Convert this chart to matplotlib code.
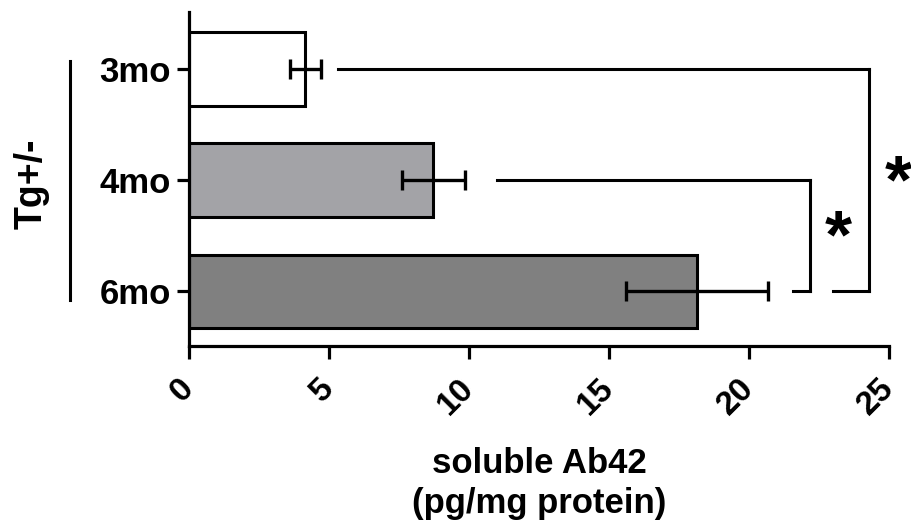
import matplotlib
matplotlib.use('Agg')
import matplotlib.pyplot as plt
from matplotlib.lines import Line2D
import numpy as np

plt.rcParams['font.family'] = ['Liberation Sans', 'DejaVu Sans']
plt.rcParams['font.weight'] = 'bold'

# data
groups = ['3mo', '4mo', '6mo']
means = [4.15, 8.72, 18.13]
sems = [0.55, 1.13, 2.54]
bar_colors = ['#FFFFFF', '#A3A3A7', '#808080']
xticks = [0, 5, 10, 15, 20, 25]

# significance brackets: (row a, row b, x of line start, x of vertical, x of short end)
brackets = [
    (0, 2, 5.32, 24.3, 23.0),
    (1, 2, 11.0, 22.18, 21.56),
]
stars = [('*', 25.33, 1.04), ('*', 23.2, 1.53)]

fig = plt.figure(figsize=(9.11, 5.28), dpi=100)
fig.patch.set_facecolor('white')
ax = fig.add_axes([189/911, 1 - 346/528, 700/911, 334/528])

ypos = np.arange(len(groups))
ax.barh(ypos, means, height=0.66, color=bar_colors, edgecolor='black',
        linewidth=2.2, zorder=2)
ax.errorbar(means, ypos, xerr=sems, fmt='none', ecolor='black',
            elinewidth=2.4, capsize=7, capthick=2.4, zorder=3)

# brackets
lw = 2.2
for ra, rb, x0, xv, x1 in brackets:
    ax.plot([x0, xv], [ra, ra], color='black', lw=lw, clip_on=False, zorder=3)
    ax.plot([xv, xv], [ra, rb], color='black', lw=lw, clip_on=False, zorder=3)
    ax.plot([x1, xv], [rb, rb], color='black', lw=lw, clip_on=False, zorder=3)
for s, sx, sy in stars:
    ax.text(sx, sy, s, ha='center', va='center', fontsize=50,
            fontweight='bold', clip_on=False)

ax.set_xlim(0, 25)
ax.set_ylim(2.49, -0.51)
ax.set_yticks(ypos)
ax.set_yticklabels(groups, fontsize=25, fontweight='bold')
ax.set_xticks(xticks)
ax.set_xticklabels([str(t) for t in xticks], fontsize=24, fontweight='bold')
plt.setp(ax.get_xticklabels(), rotation=45, ha='right', va='center',
         rotation_mode='anchor')

for side in ['top', 'right']:
    ax.spines[side].set_visible(False)
for side in ['left', 'bottom']:
    ax.spines[side].set_linewidth(2.3)
ax.tick_params(axis='both', length=9, width=2.3, direction='out')
ax.tick_params(axis='y', pad=4)
ax.tick_params(axis='x', pad=18)

ax.set_xlabel('soluble Ab42\n(pg/mg protein)', fontsize=25, fontweight='bold',
              labelpad=19, linespacing=1.25)

# group label on the left
fig.text(32/911, 1 - 184/528, 'Tg+/-', rotation=90, ha='center', va='center',
         fontsize=27, fontweight='bold')
fig.add_artist(Line2D([70/911, 70/911], [1 - 61/528, 1 - 300/528],
                      color='black', lw=2.2))

plt.savefig('out.png', dpi=100, facecolor='white')
